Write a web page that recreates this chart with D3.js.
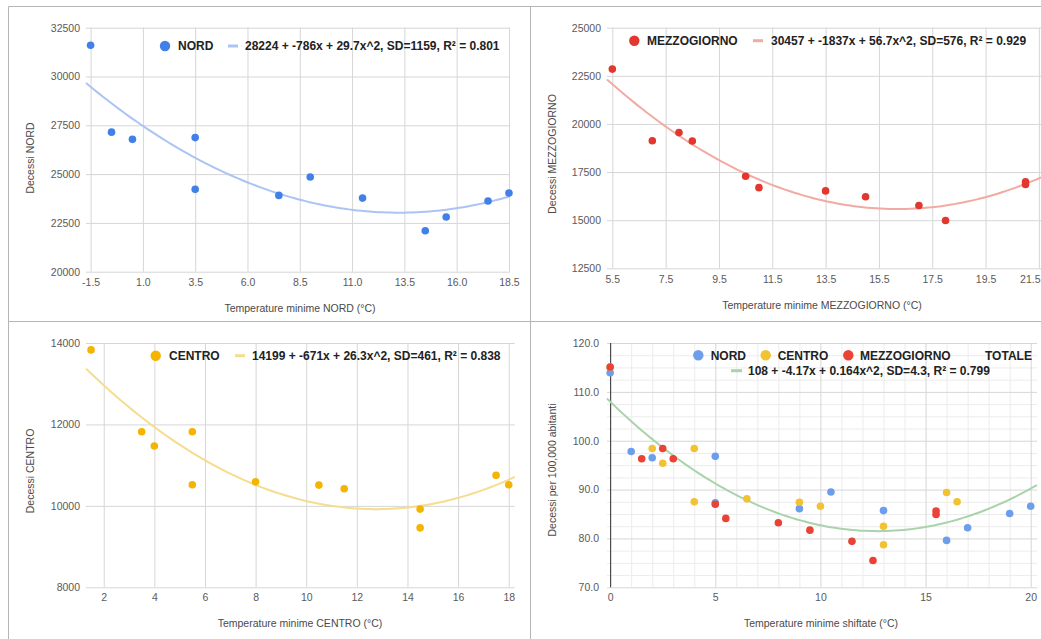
<!DOCTYPE html>
<html>
<head>
<meta charset="utf-8">
<script src="https://cdnjs.cloudflare.com/ajax/libs/d3/7.8.5/d3.min.js"></script>
<style>
  body { margin: 0; background: #fff; }
  text { font-family: Arial, "Liberation Sans", sans-serif; }
</style>
</head>
<body>
<div id="chart"></div>
<script>
// ---- data ----
var nordTemp = [-1.5, -0.5, 0.5, 3.5, 3.5, 7.5, 9, 11.5, 14.5, 15.5, 17.5, 18.5];
var nordDeaths = [31600, 27150, 26780, 26870, 24220, 23910, 24850, 23770, 22100, 22800, 23620, 24030];
var nordFit = [28224, -786, 29.7];

var mezzTemp = [5.5, 7, 8, 8.5, 10.5, 11, 13.5, 15, 17, 18, 21, 21];
var mezzDeaths = [22850, 19130, 19550, 19110, 17280, 16690, 16520, 16220, 15760, 14980, 17000, 16860];
var mezzFit = [30457, -1837, 56.7];

var centroTemp = [1.5, 3.5, 4, 5.5, 5.5, 8, 10.5, 11.5, 14.5, 14.5, 17.5, 18];
var centroDeaths = [13830, 11820, 11470, 11820, 10520, 10590, 10510, 10420, 9920, 9460, 10750, 10520];
var centroFit = [14199, -671, 26.3];

// shifted temperatures vs deaths per 100,000
var nordShift = [0, 1, 2, 5, 5, 9, 10.5, 13, 16, 17, 19, 20];
var nordRate = [113.9, 97.8, 96.5, 96.8, 87.3, 86.1, 89.5, 85.7, 79.6, 82.2, 85.1, 86.6];
var centroShift = [0, 2, 2.5, 4, 4, 6.5, 9, 10, 13, 13, 16, 16.5];
var centroRate = [115.1, 98.4, 95.4, 98.4, 87.5, 88.1, 87.4, 86.6, 82.5, 78.7, 89.4, 87.5];
var mezzShift = [0, 1.5, 2.5, 3, 5, 5.5, 8, 9.5, 11.5, 12.5, 15.5, 15.5];
var mezzRate = [115.1, 96.3, 98.4, 96.3, 87.0, 84.1, 83.2, 81.7, 79.4, 75.5, 85.6, 84.9];
var totFit = [108, -4.17, 0.164];

// ticks
var nordXTicks = [-1.5, 1.0, 3.5, 6.0, 8.5, 11.0, 13.5, 16.0, 18.5];
var nordYTicks = [20000, 22500, 25000, 27500, 30000, 32500];
var mezzXTicks = [5.5, 7.5, 9.5, 11.5, 13.5, 15.5, 17.5, 19.5, 21.5];
var mezzYTicks = [12500, 15000, 17500, 20000, 22500, 25000];
var centroXTicks = [2, 4, 6, 8, 10, 12, 14, 16, 18];
var centroYTicks = [8000, 10000, 12000, 14000];
var totXTicks = [0, 5, 10, 15, 20];
var totYTicks = [70, 80, 90, 100, 110, 120];

var svg = d3.select("#chart")
  .append("svg")
  .attr("width", 1041)
  .attr("height", 639);

// panel frames
svg.append("path")
  .attr("d", "M8.5,639V6.5H1041M530.5,6.5V639M8.5,321.5H1041")
  .attr("fill", "none")
  .attr("stroke", "#b5b5b5")
  .attr("stroke-width", 1);

function drawPanel(p) {
  var g = svg.append("g");
  var x = d3.scaleLinear().domain(p.xDomain).range(p.xRange);
  var y = d3.scaleLinear().domain(p.yDomain).range(p.yRange);
  var w = p.xRange[1] - p.xRange[0];
  var h = p.yRange[0] - p.yRange[1];

  // minor gridlines
  if (p.xMinor) {
    g.append("g").selectAll("line")
      .data(p.xMinor)
      .enter()
      .append("line")
      .attr("x1", d => x(d) + 0.5).attr("x2", d => x(d) + 0.5)
      .attr("y1", p.yRange[1]).attr("y2", p.yRange[0])
      .attr("stroke", "#ececec");
    g.append("g").selectAll("line")
      .data(p.yMinor)
      .enter()
      .append("line")
      .attr("y1", d => y(d) + 0.5).attr("y2", d => y(d) + 0.5)
      .attr("x1", p.xRange[0]).attr("x2", p.xRange[1])
      .attr("stroke", "#ececec");
  }

  // axes with gridlines
  var xAxis = g.append("g")
    .attr("transform", `translate(0, ${p.yRange[0]})`)
    .call(d3.axisBottom(x).tickValues(p.xTicks).tickFormat(p.xFmt)
      .tickSize(-h).tickPadding(p.xPad));
  var yAxis = g.append("g")
    .attr("transform", `translate(${p.xRange[0]}, 0)`)
    .call(d3.axisLeft(y).tickValues(p.yTicks).tickFormat(p.yFmt)
      .tickSize(-w).tickPadding(p.yPad));

  [xAxis, yAxis].forEach(function(a) {
    a.select(".domain").remove();
    a.selectAll(".tick line").attr("stroke", "#d6d6d6");
    a.selectAll(".tick text")
      .attr("fill", "#5a5a5a")
      .style("font-size", "10.5px")
      .style("font-family", "Arial, 'Liberation Sans', sans-serif");
  });

  // keep a label that would run past the right edge inside the picture
  xAxis.selectAll(".tick text")
    .filter(function(d) { return x(d) + this.getComputedTextLength() / 2 > 1040; })
    .attr("text-anchor", "end")
    .attr("dx", d => 1040 - x(d));

  if (p.zeroLine) {
    g.append("line")
      .attr("x1", x(0) + 0.5).attr("x2", x(0) + 0.5)
      .attr("y1", p.yRange[1]).attr("y2", p.yRange[0])
      .attr("stroke", "#333")
      .attr("stroke-width", 1);
  }

  // trendline
  var xs = d3.range(0, 101).map(i => p.xDomain[0] + (p.xDomain[1] - p.xDomain[0]) * i / 100);
  var line = d3.line()
    .x(d => x(d))
    .y(d => y(p.fit[0] + p.fit[1] * d + p.fit[2] * d * d));
  g.append("path")
    .datum(xs)
    .attr("d", line)
    .attr("fill", "none")
    .attr("stroke", p.fitColor)
    .attr("stroke-width", 2);

  // points
  p.series.forEach(function(s) {
    g.append("g").selectAll("circle")
      .data(s.xs)
      .enter()
      .append("circle")
      .attr("cx", d => x(d))
      .attr("cy", (d, i) => y(s.ys[i]))
      .attr("r", 3.8)
      .attr("fill", s.color);
  });

  // axis titles
  g.append("text")
    .attr("x", p.xTitlePos[0])
    .attr("y", p.xTitlePos[1])
    .attr("text-anchor", "middle")
    .attr("fill", "#4a4a4a")
    .style("font-size", "10.5px")
    .text(p.xTitle);

  g.append("text")
    .attr("transform", `translate(${p.yTitlePos[0]}, ${p.yTitlePos[1]}) rotate(-90)`)
    .attr("text-anchor", "middle")
    .attr("fill", "#4a4a4a")
    .style("font-size", "10.5px")
    .text(p.yTitle);

  // legend
  p.legend.forEach(function(l) {
    if (l.dot) {
      g.append("circle")
        .attr("cx", l.dot[0]).attr("cy", l.dot[1])
        .attr("r", 5.2)
        .attr("fill", l.color);
    }
    if (l.swatch) {
      g.append("line")
        .attr("x1", l.swatch[0]).attr("x2", l.swatch[1])
        .attr("y1", l.swatch[2]).attr("y2", l.swatch[2])
        .attr("stroke", l.color)
        .attr("stroke-width", 3);
    }
    g.append("text")
      .attr("x", l.text[0])
      .attr("y", l.text[1])
      .attr("fill", "#222")
      .style("font-size", "12px")
      .style("font-weight", "bold")
      .text(l.label);
  });
}

// plain hyphen for negatives, as in the original
var f1 = d => d.toFixed(1);
var fd = d => String(d);

function fitLabel(c, sd, r2) {
  return `${c[0]} + ${c[1]}x + ${c[2]}x^2, SD=${sd}, R\u00B2 = ${r2}`;
}

drawPanel({
  xDomain: [-1.72, 18.55], xRange: [86, 510],
  yDomain: [20000, 32500], yRange: [271.7, 27.7],
  xTicks: nordXTicks, yTicks: nordYTicks, xFmt: f1, yFmt: fd, xPad: 7, yPad: 6,
  fit: nordFit, fitColor: "#abc4f3",
  series: [{xs: nordTemp, ys: nordDeaths, color: "#4180e8"}],
  xTitle: "Temperature minime NORD (\u00B0C)", xTitlePos: [300, 312],
  yTitle: "Decessi NORD", yTitlePos: [34, 158],
  legend: [
    {dot: [165, 46], color: "#4180e8", text: [178, 50.3], label: "NORD"},
    {swatch: [228, 238, 46], color: "#abc4f3", text: [245, 50.3], label: fitLabel(nordFit, 1159, "0.801")}
  ]
});

drawPanel({
  xDomain: [5.3, 21.58], xRange: [607, 1041],
  yDomain: [12500, 25000], yRange: [268.3, 27.7],
  xTicks: mezzXTicks, yTicks: mezzYTicks, xFmt: f1, yFmt: fd, xPad: 7.5, yPad: 6,
  fit: mezzFit, fitColor: "#f1aba3",
  series: [{xs: mezzTemp, ys: mezzDeaths, color: "#e2372f"}],
  xTitle: "Temperature minime MEZZOGIORNO (\u00B0C)", xTitlePos: [822, 309],
  yTitle: "Decessi MEZZOGIORNO", yTitlePos: [555.5, 154],
  legend: [
    {dot: [634.3, 40.7], color: "#e2372f", text: [647, 45], label: "MEZZOGIORNO"},
    {swatch: [753, 763, 40.7], color: "#f1aba3", text: [771, 45], label: fitLabel(mezzFit, 576, "0.929")}
  ]
});

drawPanel({
  xDomain: [1.3, 18.24], xRange: [86, 514.8],
  yDomain: [8000, 14000], yRange: [587.3, 343],
  xTicks: centroXTicks, yTicks: centroYTicks, xFmt: fd, yFmt: fd, xPad: 6.5, yPad: 6,
  fit: centroFit, fitColor: "#f6dc8e",
  series: [{xs: centroTemp, ys: centroDeaths, color: "#f4b400"}],
  xTitle: "Temperature minime CENTRO (\u00B0C)", xTitlePos: [300, 627],
  yTitle: "Decessi CENTRO", yTitlePos: [34, 471],
  legend: [
    {dot: [155.7, 355.7], color: "#f4b400", text: [169, 360], label: "CENTRO"},
    {swatch: [235, 245, 355.7], color: "#f6dc8e", text: [252, 360], label: fitLabel(centroFit, 461, "0.838")}
  ]
});

drawPanel({
  xDomain: [-0.15, 20.3], xRange: [607, 1037],
  yDomain: [70, 120], yRange: [587.3, 343],
  xTicks: totXTicks, yTicks: totYTicks, xFmt: fd, yFmt: f1, xPad: 6.5, yPad: 8,
  xMinor: d3.range(1, 21).filter(d => d % 5 !== 0),
  yMinor: d3.range(72.5, 120, 2.5).filter(d => d % 10 !== 0),
  zeroLine: true,
  fit: totFit, fitColor: "#a9d4ab",
  series: [
    {xs: nordShift, ys: nordRate, color: "#6d9eeb"},
    {xs: centroShift, ys: centroRate, color: "#f1c232"},
    {xs: mezzShift, ys: mezzRate, color: "#ea4335"}
  ],
  xTitle: "Temperature minime shiftate (\u00B0C)", xTitlePos: [821, 627],
  yTitle: "Decessi per 100,000 abitanti", yTitlePos: [555.5, 470],
  legend: [
    {dot: [698.3, 355.3], color: "#6d9eeb", text: [710.7, 359.6], label: "NORD"},
    {dot: [765.7, 355.3], color: "#f1c232", text: [777.7, 359.6], label: "CENTRO"},
    {dot: [848.3, 355.3], color: "#ea4335", text: [860, 359.6], label: "MEZZOGIORNO"},
    {text: [985, 359.6], label: "TOTALE"},
    {swatch: [731, 742, 370.7], color: "#a9d4ab", text: [748, 375], label: fitLabel(totFit, 4.3, "0.799")}
  ]
});
</script>
</body>
</html>
